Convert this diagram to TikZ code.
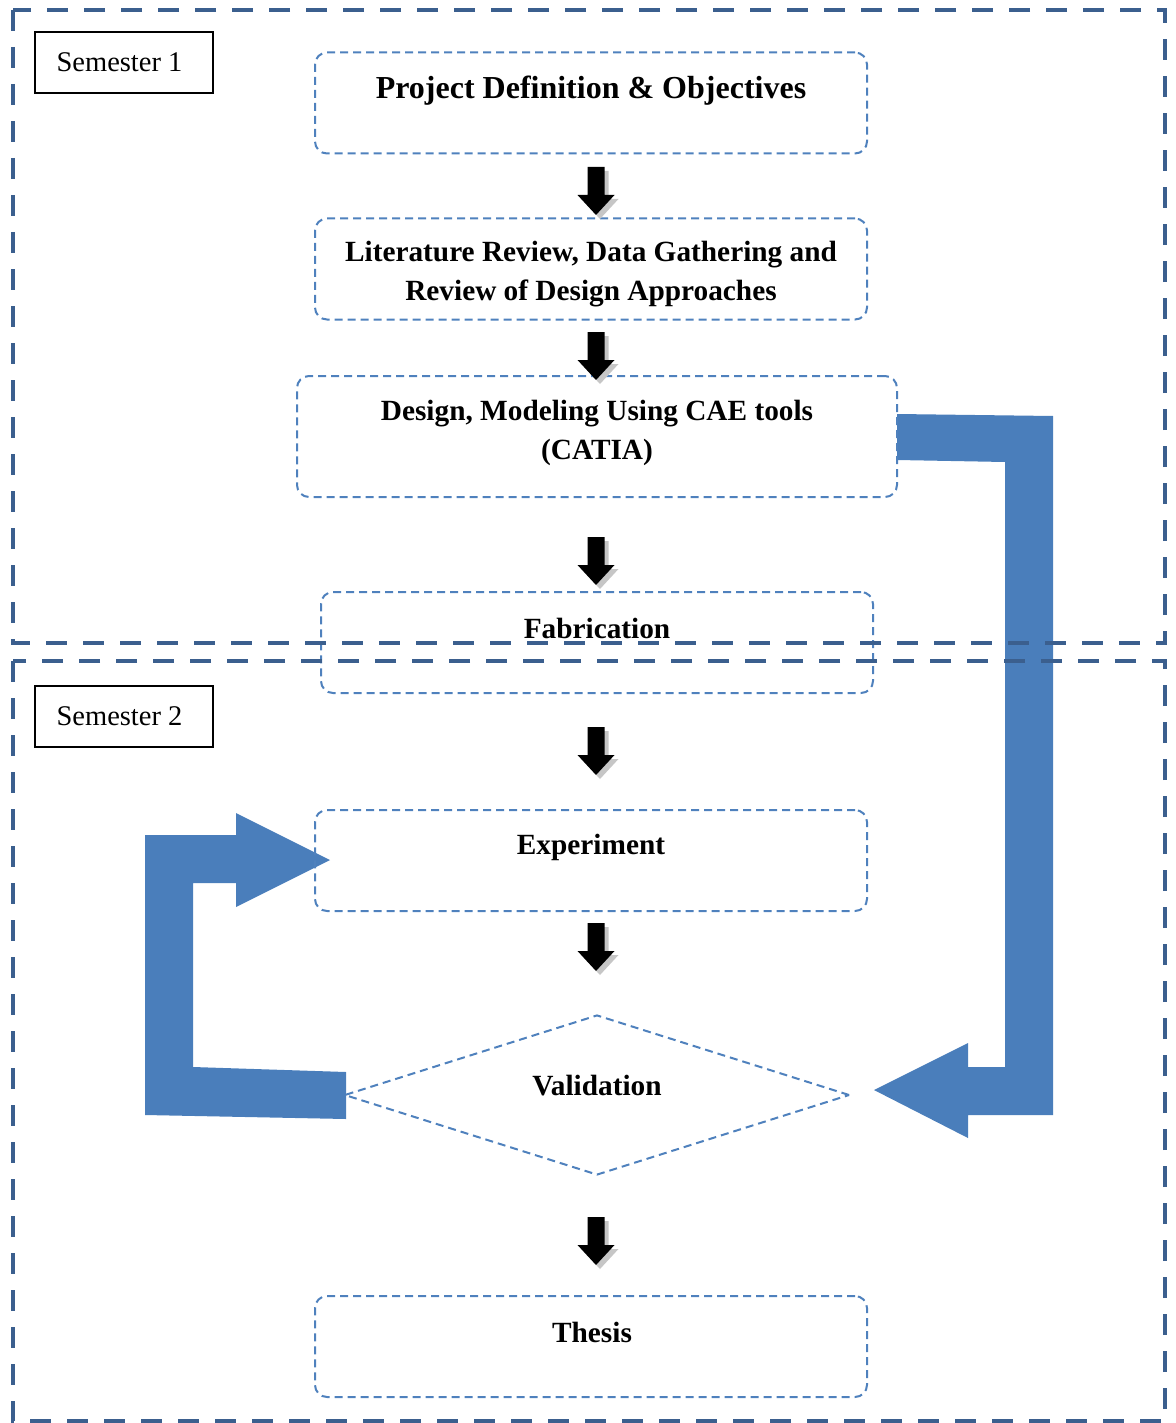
\documentclass[tikz,border=0pt]{standalone}
\usepackage{fontspec}
\setmainfont{Liberation Serif}
\usetikzlibrary{calc,shapes.geometric}
\definecolor{outerblue}{HTML}{3B5F8E}
\definecolor{thinblue}{HTML}{4F81BD}
\definecolor{arrowblue}{HTML}{4A7EBB}
\tikzset{
  flowbox/.style={draw=thinblue, line width=2pt, dash pattern=on 8pt off 5pt,
    rounded corners=12pt, minimum width=552pt, minimum height=101pt, inner sep=0pt},
  validbox/.style={diamond, draw=thinblue, line width=2pt, dash pattern=on 8pt off 5pt,
    minimum width=505pt, minimum height=160pt, inner sep=0pt, aspect=3.16},
  boxtext/.style={font=\bfseries\fontsize{29.3}{39}\selectfont, align=center, inner sep=0pt},
  titletext/.style={font=\bfseries\fontsize{32}{39}\selectfont, align=center, inner sep=0pt},
  semlabel/.style={draw=black, line width=1.5pt, minimum width=178pt, minimum height=61pt,
    inner sep=0pt},
  semtext/.style={font=\fontsize{28.5}{34}\selectfont, inner sep=0pt},
  semframe/.style={draw=outerblue, line width=4pt, dash pattern=on 21pt off 16pt},
  bigarrow/.style={fill=arrowblue},
  downarrow/.pic={
    \fill[gray!45] (-4.5,4) -- (12.5,4) -- (12.5,32) -- (22.5,32) -- (4,52) -- (-14.5,32) -- (-4.5,32) -- cycle;
    \fill[black] (-8.5,0) -- (8.5,0) -- (8.5,28) -- (18.5,28) -- (0,48) -- (-18.5,28) -- (-8.5,28) -- cycle;
  }
}
\begin{document}
\begin{tikzpicture}[x=1pt,y=-1pt]
\useasboundingbox (0,0) rectangle (1175,1423);

% big blue feedback arrows
\fill[bigarrow] (897,414) -- (1053,416) -- (1053,1115) -- (968,1115) -- (968,1138)
  -- (874,1090) -- (968,1043) -- (968,1067) -- (1005,1067) -- (1005,462) -- (897,460) -- cycle;
\fill[bigarrow] (145,835) -- (236,835) -- (236,813) -- (330,860) -- (236,907) -- (236,883)
  -- (193,883) -- (193,1067) -- (346,1072) -- (346,1119) -- (145,1115) -- cycle;

% process boxes
\node[flowbox] (b1) at (591,103) {};
\node[flowbox] (b2) at (591,269) {};
\node[flowbox, minimum width=600pt, minimum height=121pt] (b3) at (597,436.5) {};
\node[flowbox] (b4) at (597,642.5) {};
\node[flowbox] (b5) at (591,860.5) {};
\node[validbox] (b6) at (597,1095) {};
\node[flowbox] (b7) at (591,1346.5) {};

\node[titletext] (t1) at (591,91) {Project Definition \& Objectives};
\node[boxtext] (t2) at (591,274) {Literature Review, Data Gathering and\\Review of Design Approaches};
\node[boxtext] (t3) at (597,433) {Design, Modeling Using CAE tools\\(CATIA)};
\node[boxtext] (t4) at (597,628) {Fabrication};
\node[boxtext] (t5) at (591,847) {Experiment};
\node[boxtext] (t6) at (597,1086) {Validation};
\node[boxtext] (t7) at (592,1332) {Thesis};

% semester frames
\draw[semframe] (13,10) rectangle (1165,643);
\draw[semframe] (13,661) rectangle (1165,1421);
\node[semlabel] (s1) at (124,62.5) {};
\node[semlabel] (s2) at (124,716.5) {};
\node[semtext] at (119.5,62) {Semester 1};
\node[semtext] at (119.5,716) {Semester 2};

% black down arrows between steps
\pic (a1) at (596,167) {downarrow};
\pic (a2) at (596,332) {downarrow};
\pic (a3) at (596,537) {downarrow};
\pic (a4) at (596,727) {downarrow};
\pic (a5) at (596,923) {downarrow};
\pic (a6) at (596,1217) {downarrow};
\end{tikzpicture}
\end{document}
